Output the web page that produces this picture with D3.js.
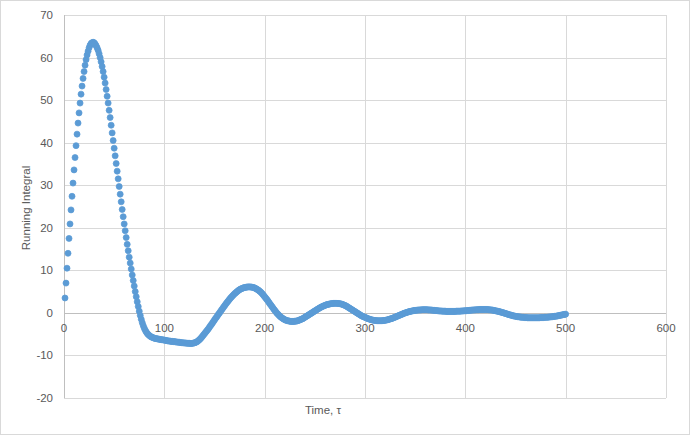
<!DOCTYPE html>
<html>
<head>
<meta charset="utf-8">
<script src="https://cdn.jsdelivr.net/npm/d3@7"></script>
<style>
  body { margin: 0; background: #fff; }
  svg { display: block; font-family: "Liberation Sans", Arial, sans-serif; }
  .tick-label { fill: #595959; font-size: 11.5px; }
  .axis-title { fill: #595959; font-size: 11.5px; }
</style>
</head>
<body>
<svg id="chart" width="690" height="435"></svg>
<script>
// time axis: one sample per unit of tau, starting at 1
const tauStart = 1;

// running integral, one value per tau
const runningIntegral = [
  3.5, 7.0, 10.5, 14.0, 17.5, 20.9, 24.2, 27.4, 30.5, 33.6,
  36.5, 39.3, 42.0, 44.6, 47.0, 49.3, 51.4, 53.3, 55.1, 56.7,
  58.2, 59.5, 60.6, 61.5, 62.3, 62.9, 63.3, 63.5, 63.6, 63.5,
  63.2, 62.8, 62.3, 61.7, 60.9, 60.0, 59.0, 57.9, 56.7, 55.4,
  54.0, 52.5, 50.9, 49.3, 47.6, 45.9, 44.1, 42.3, 40.5, 38.7,
  36.9, 35.1, 33.3, 31.5, 29.7, 27.9, 26.1, 24.3, 22.6, 20.9,
  19.3, 17.7, 16.1, 14.6, 13.1, 11.7, 10.3, 8.9, 7.6, 6.3,
  5.0, 3.8, 2.6, 1.5, 0.4, -0.6, -1.5, -2.3, -3.0, -3.6,
  -4.1, -4.5, -4.85, -5.1, -5.3, -5.5, -5.65, -5.75, -5.85, -5.95,
  -6.0, -6.05, -6.1, -6.15, -6.2, -6.25, -6.3, -6.3, -6.35, -6.4,
  -6.45, -6.5, -6.55, -6.6, -6.6, -6.65, -6.7, -6.7, -6.75, -6.75,
  -6.8, -6.85, -6.85, -6.9, -6.9, -6.95, -7.0, -7.0, -7.05, -7.05,
  -7.1, -7.1, -7.15, -7.15, -7.15, -7.2, -7.2, -7.15, -7.1, -7.05,
  -6.95, -6.85, -6.7, -6.5, -6.3, -6.05, -5.8, -5.5, -5.2, -4.9,
  -4.6, -4.3, -4.0, -3.7, -3.35, -3.0, -2.7, -2.35, -2.0, -1.65,
  -1.3, -1.0, -0.65, -0.3, 0.0, 0.35, 0.7, 1.0, 1.35, 1.65,
  2.0, 2.3, 2.6, 2.9, 3.2, 3.5, 3.75, 4.0, 4.25, 4.5,
  4.7, 4.9, 5.1, 5.3, 5.45, 5.6, 5.7, 5.8, 5.9, 5.95,
  6.0, 6.05, 6.1, 6.1, 6.1, 6.1, 6.05, 6.0, 5.95, 5.85,
  5.75, 5.6, 5.45, 5.3, 5.1, 4.9, 4.65, 4.4, 4.1, 3.8,
  3.5, 3.2, 2.9, 2.55, 2.2, 1.9, 1.55, 1.25, 0.9, 0.6,
  0.3, 0.0, -0.25, -0.5, -0.75, -0.95, -1.15, -1.3, -1.45, -1.6,
  -1.7, -1.8, -1.85, -1.9, -1.95, -2.0, -2.0, -2.0, -2.0, -1.95,
  -1.95, -1.9, -1.85, -1.75, -1.65, -1.55, -1.45, -1.35, -1.2, -1.05,
  -0.9, -0.75, -0.6, -0.45, -0.3, -0.15, 0.0, 0.15, 0.3, 0.45,
  0.6, 0.75, 0.9, 1.05, 1.2, 1.3, 1.45, 1.55, 1.65, 1.75,
  1.85, 1.95, 2.0, 2.05, 2.1, 2.15, 2.2, 2.2, 2.25, 2.25,
  2.25, 2.25, 2.2, 2.2, 2.15, 2.1, 2.05, 1.95, 1.85, 1.75,
  1.65, 1.5, 1.35, 1.2, 1.05, 0.9, 0.75, 0.6, 0.45, 0.3,
  0.15, 0.0, -0.15, -0.3, -0.45, -0.6, -0.75, -0.85, -0.95, -1.05,
  -1.15, -1.25, -1.35, -1.45, -1.5, -1.6, -1.65, -1.7, -1.75, -1.8,
  -1.8, -1.85, -1.85, -1.85, -1.85, -1.85, -1.85, -1.8, -1.8, -1.75,
  -1.7, -1.65, -1.6, -1.5, -1.45, -1.35, -1.3, -1.2, -1.1, -1.0,
  -0.9, -0.8, -0.7, -0.6, -0.5, -0.4, -0.3, -0.2, -0.1, 0.0,
  0.05, 0.15, 0.2, 0.3, 0.35, 0.4, 0.45, 0.5, 0.55, 0.6,
  0.6, 0.65, 0.65, 0.7, 0.7, 0.7, 0.75, 0.75, 0.75, 0.75,
  0.75, 0.75, 0.7, 0.7, 0.7, 0.65, 0.65, 0.6, 0.6, 0.55,
  0.55, 0.5, 0.5, 0.45, 0.45, 0.45, 0.4, 0.4, 0.4, 0.4,
  0.35, 0.35, 0.35, 0.35, 0.35, 0.35, 0.35, 0.35, 0.35, 0.35,
  0.4, 0.4, 0.4, 0.4, 0.4, 0.45, 0.45, 0.45, 0.5, 0.5,
  0.5, 0.55, 0.55, 0.6, 0.6, 0.65, 0.65, 0.7, 0.7, 0.7,
  0.75, 0.75, 0.75, 0.8, 0.8, 0.8, 0.8, 0.8, 0.8, 0.8,
  0.8, 0.8, 0.75, 0.75, 0.7, 0.7, 0.65, 0.6, 0.55, 0.5,
  0.45, 0.4, 0.35, 0.3, 0.2, 0.15, 0.1, 0.0, -0.05, -0.15,
  -0.2, -0.3, -0.35, -0.45, -0.5, -0.55, -0.65, -0.7, -0.75, -0.8,
  -0.85, -0.9, -0.9, -0.95, -1.0, -1.0, -1.05, -1.05, -1.1, -1.1,
  -1.1, -1.15, -1.15, -1.15, -1.15, -1.15, -1.15, -1.15, -1.15, -1.15,
  -1.15, -1.15, -1.15, -1.15, -1.1, -1.1, -1.1, -1.1, -1.05, -1.05,
  -1.05, -1.0, -1.0, -0.95, -0.95, -0.9, -0.9, -0.85, -0.8, -0.8,
  -0.75, -0.7, -0.65, -0.6, -0.55, -0.5, -0.45, -0.4, -0.35, -0.3
];

const xTicks = [0, 100, 200, 300, 400, 500, 600];
const yTicks = [-20, -10, 0, 10, 20, 30, 40, 50, 60, 70];

const xTitle = 'Time, τ';
const yTitle = 'Running Integral';

const data = runningIntegral.map((v, i) => ({ tau: tauStart + i, value: v }));

const width = 690, height = 435;
const plot = { left: 64, right: 666, top: 15, bottom: 398 };

const svg = d3.select('#chart');

// chart area border
svg.append('rect')
  .attr('x', 0.5).attr('y', 0.5)
  .attr('width', width - 1).attr('height', height - 1)
  .attr('fill', '#fff')
  .attr('stroke', '#d9d9d9');

let x = d3.scaleLinear().domain([0, 600]).range([plot.left, plot.right]);
let y = d3.scaleLinear().domain([-20, 70]).range([plot.bottom, plot.top]);

// gridlines
svg.append('g')
  .selectAll('line.hgrid')
  .data(yTicks)
  .enter()
  .append('line')
  .attr('x1', plot.left).attr('x2', plot.right)
  .attr('y1', d => Math.round(y(d)) + 0.5).attr('y2', d => Math.round(y(d)) + 0.5)
  .attr('stroke', '#d9d9d9');

svg.append('g')
  .selectAll('line.vgrid')
  .data(xTicks)
  .enter()
  .append('line')
  .attr('x1', d => Math.round(x(d)) + 0.5).attr('x2', d => Math.round(x(d)) + 0.5)
  .attr('y1', plot.top).attr('y2', plot.bottom)
  .attr('stroke', d => d === 0 ? '#bfbfbf' : '#d9d9d9');

// horizontal axis line at y = 0
svg.append('line')
  .attr('x1', plot.left).attr('x2', plot.right)
  .attr('y1', Math.round(y(0)) + 0.5).attr('y2', Math.round(y(0)) + 0.5)
  .attr('stroke', '#bfbfbf');

// tick labels
svg.append('g')
  .selectAll('text')
  .data(yTicks)
  .enter()
  .append('text')
  .attr('class', 'tick-label')
  .attr('x', 53)
  .attr('y', d => y(d) + 4)
  .attr('text-anchor', 'end')
  .text(d => d);

svg.append('g')
  .selectAll('text')
  .data(xTicks)
  .enter()
  .append('text')
  .attr('class', 'tick-label')
  .attr('x', d => x(d))
  .attr('y', y(0) + 19)
  .attr('text-anchor', 'middle')
  .text(d => d);

// axis titles
svg.append('text')
  .attr('class', 'axis-title')
  .attr('transform', `translate(30, 208) rotate(-90)`)
  .attr('text-anchor', 'middle')
  .text(yTitle);

svg.append('text')
  .attr('class', 'axis-title')
  .attr('x', 323)
  .attr('y', 414)
  .attr('text-anchor', 'middle')
  .text(xTitle);

// markers
svg.append('g')
  .selectAll('circle')
  .data(data)
  .enter()
  .append('circle')
  .attr('cx', d => x(d.tau))
  .attr('cy', d => y(d.value))
  .attr('r', 3)
  .attr('fill', '#5b9bd5')
  .attr('stroke', '#5b9bd5')
  .attr('stroke-width', 0.75);
</script>
</body>
</html>
